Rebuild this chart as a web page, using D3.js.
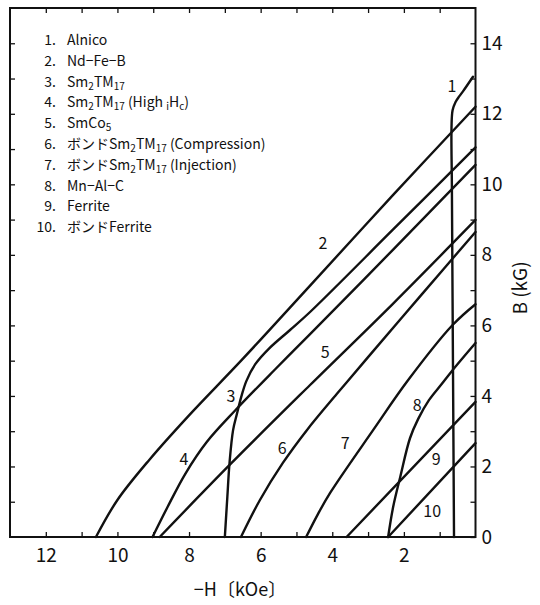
<!DOCTYPE html>
<html>
<head>
<meta charset="utf-8">
<script src="https://cdn.jsdelivr.net/npm/d3@7"></script>
<style>
body { margin: 0; background: #fff; }
svg { display: block; }
text { font-family: "Noto Sans CJK JP", "Noto Sans", sans-serif; fill: #111; }
</style>
</head>
<body>
<svg id="chart" width="540" height="605"></svg>
<script>
// demagnetization curves, [-H (kOe), B (kG)]
const alnico        = [[0.60, 0], [0.63, 5], [0.66, 10], [0.67, 11.6], [0.64, 12.1], [0.56, 12.33], [0.45, 12.5], [0.34, 12.65], [0.07, 13.05]];
const ndFeB         = [[10.6, 0], [10.0, 1.05], [9.1, 2.2], [8.0, 3.45], [6.5, 5.05], [4.6, 7.15], [2.3, 9.7], [0, 12.2]];
const sm2tm17       = [[7.0, 0], [6.93, 1.14], [6.87, 2.09], [6.77, 3.03], [6.66, 3.5], [6.54, 3.98], [6.4, 4.42], [6.15, 4.9], [5.76, 5.35], [5.18, 5.87], [4.62, 6.38], [2.3, 8.72], [0, 11.05]];
const sm2tm17High   = [[9.02, 0], [8.6, 0.85], [8.1, 1.8], [7.5, 2.7], [6.7, 3.6], [5.6, 4.75], [4.62, 5.75], [2.3, 8.15], [0, 10.55]];
const smCo5         = [[8.82, 0], [6.86, 2.05], [4.62, 4.31], [2.3, 6.62], [0, 8.99]];
const bondedComp    = [[6.55, 0], [6.02, 1.05], [5.38, 2.1], [4.71, 3.03], [3.87, 4.06], [3.0, 5.1], [1.5, 6.88], [0, 8.65]];
const bondedInj     = [[4.73, 0], [4.4, 0.65], [4.06, 1.25], [2.86, 3.03], [1.88, 4.45], [0.64, 6.01], [0, 6.6]];
const mnAlC         = [[2.44, 0], [2.3, 0.85], [2.1, 1.71], [1.83, 2.8], [1.6, 3.35], [1.3, 3.88], [0.95, 4.33], [0.64, 4.73], [0, 5.5]];
const ferrite       = [[3.6, 0], [0, 3.83]];
const bondedFerrite = [[2.44, 0], [0, 2.66]];

const curves = [alnico, ndFeB, sm2tm17, sm2tm17High, smCo5, bondedComp, bondedInj, mnAlC, ferrite, bondedFerrite];
const curveNames = ["1", "2", "3", "4", "5", "6", "7", "8", "9", "10"];
// where the number sits next to each curve, in data units
const nameAt = [[0.66, 12.77], [4.26, 8.34], [6.83, 4.0], [8.14, 2.21], [4.2, 5.25], [5.4, 2.52], [3.64, 2.67], [1.63, 3.74], [1.1, 2.21], [1.21, 0.74]];

// {..} = subscript
const legendLabels = [
  "Alnico",
  "Nd−Fe−B",
  "Sm{2}TM{17}",
  "Sm{2}TM{17} (High  {i}H{c})",
  "SmCo{5}",
  "ボンドSm{2}TM{17} (Compression)",
  "ボンドSm{2}TM{17} (Injection)",
  "Mn−Al−C",
  "Ferrite",
  "ボンドFerrite"
];

const xTicks = d3.range(1, 13);
const xTickLabels = [12, 10, 8, 6, 4, 2];
const yTicks = d3.range(0, 15);
const yTickLabels = [0, 2, 4, 6, 8, 10, 12, 14];

const svg = d3.select("#chart");
const x = d3.scaleLinear([13, 0], [10, 475.5]);
const y = d3.scaleLinear([0, 15], [537, 8]);
const font = '"Noto Sans CJK JP", "Noto Sans", sans-serif';

// axes, ticks pointing inward
const styleAxis = g => {
  g.select(".domain").remove();
  g.attr("font-family", font).attr("font-size", 19).attr("color", "#111");
  g.selectAll(".tick line").attr("stroke-width", 1.3);
  g.selectAll(".tick text").filter(function () { return !this.textContent; }).remove();
};
svg.append("g").attr("transform", `translate(0,${y(0)})`)
  .call(d3.axisBottom(x).tickValues(xTicks).tickSize(-5).tickPadding(12)
    .tickFormat(d => xTickLabels.includes(d) ? d : ""))
  .call(styleAxis);
svg.append("g").attr("transform", `translate(0,${y(15)})`)
  .call(d3.axisTop(x).tickValues(xTicks).tickSize(-5).tickFormat(""))
  .call(styleAxis);
svg.append("g").attr("transform", `translate(${x(13)},0)`)
  .call(d3.axisLeft(y).tickValues(yTicks.slice(1)).tickSize(-5).tickFormat(""))
  .call(styleAxis);
svg.append("g").attr("transform", `translate(${x(0)},0)`)
  .call(d3.axisRight(y).tickValues(yTicks).tickSize(-5).tickPadding(6)
    .tickFormat(d => yTickLabels.includes(d) ? d : ""))
  .call(styleAxis);

svg.append("rect")
  .attr("x", x(13)).attr("y", y(15))
  .attr("width", x(0) - x(13)).attr("height", y(0) - y(15))
  .attr("fill", "none").attr("stroke", "#111").attr("stroke-width", 2);

// curves
const line = d3.line().x(d => x(d[0])).y(d => y(d[1])).curve(d3.curveCatmullRom.alpha(0.5));
svg.append("g")
  .attr("fill", "none").attr("stroke", "#111").attr("stroke-width", 2.4)
  .attr("stroke-linejoin", "round").attr("stroke-linecap", "round")
  .selectAll("path").data(curves).join("path")
  .attr("d", line);

svg.append("g").attr("font-size", 16).attr("text-anchor", "middle")
  .selectAll("text").data(curveNames).join("text")
  .attr("x", (d, i) => x(nameAt[i][0]))
  .attr("y", (d, i) => y(nameAt[i][1]))
  .attr("dy", "0.36em")
  .text(d => d);

// legend
const legend = svg.append("g").attr("font-size", 14);
legendLabels.forEach((lab, i) => {
  const yy = 45 + i * 20.8;
  legend.append("text").attr("x", 56).attr("y", yy).attr("text-anchor", "end").text(`${i + 1}.`);
  const t = legend.append("text").attr("x", 67).attr("y", yy);
  let shift = 0;
  lab.split(/(\{[^}]*\})/).filter(s => s.length).forEach(s => {
    const sub = s[0] === "{";
    const off = sub ? 3 : 0;
    t.append("tspan")
      .attr("dy", off - shift)
      .attr("font-size", sub ? 10 : null)
      .text(sub ? s.slice(1, -1) : s);
    shift = off;
  });
});

// axis titles
svg.append("text")
  .attr("x", 240).attr("y", 596).attr("text-anchor", "middle").attr("font-size", 18)
  .text("−H〔kOe〕");
svg.append("text")
  .attr("transform", "translate(527,288) rotate(-90)")
  .attr("text-anchor", "middle").attr("font-size", 19)
  .text("B (kG)");
</script>
</body>
</html>
